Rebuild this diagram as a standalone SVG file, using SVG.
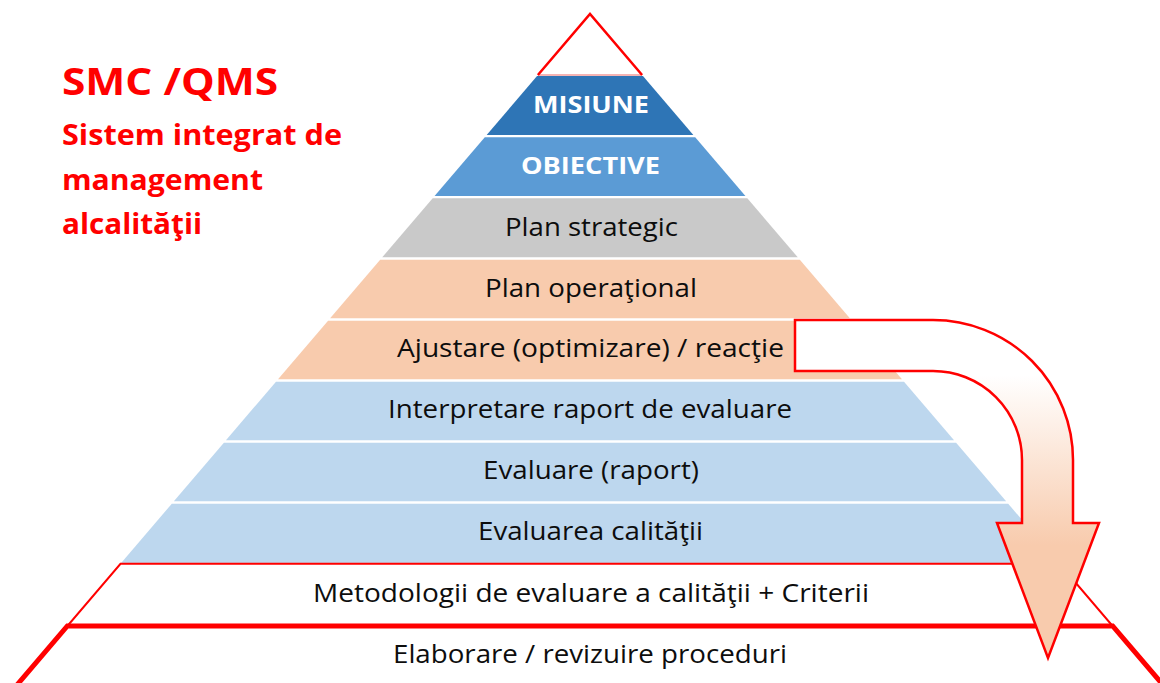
<svg xmlns="http://www.w3.org/2000/svg" width="1160" height="683" viewBox="0 0 1160 683">
<style>
.lbl{font-family:"Open Sans","Liberation Sans",sans-serif;font-size:25px;fill:#0D0D0D}
.wb{font-family:"Open Sans","Liberation Sans",sans-serif;font-size:24px;font-weight:bold;fill:#FFFFFF}
.ttl{font-family:"Open Sans","Liberation Sans",sans-serif;font-weight:bold;fill:#FF0000}
.red{stroke:#FF0000;fill:none}
</style>
<defs>
<linearGradient id="ag" gradientUnits="userSpaceOnUse" x1="0" y1="375" x2="0" y2="545">
<stop offset="0" stop-color="#FFFFFF"/>
<stop offset="1" stop-color="#F8CBAD"/>
</linearGradient>
</defs>
<rect width="1160" height="683" fill="#FFFFFF"/>
<g id="title">
<text class="ttl" x="62" y="95" font-size="38" textLength="216" lengthAdjust="spacingAndGlyphs">SMC /QMS</text>
<text class="ttl" x="62" y="145" font-size="28" textLength="280" lengthAdjust="spacingAndGlyphs">Sistem integrat de</text>
<text class="ttl" x="62" y="189.5" font-size="28" textLength="201" lengthAdjust="spacingAndGlyphs">management</text>
<text class="ttl" x="62" y="234" font-size="28" textLength="140" lengthAdjust="spacingAndGlyphs">alcalităţii</text>
</g>
<g id="apex">
<polygon points="590,14 642.1,75 537.9,75" fill="#FFFFFF" stroke="none"/>
<line x1="537.9" y1="75" x2="642.1" y2="75" stroke="#F6B4B4" stroke-width="2"/>
<polyline class="red" points="537.9,75 590,14 642.1,75" stroke-width="2.5"/>
</g>
<g id="misiune">
<polygon points="537.05,76 642.95,76 693.33,135 486.67,135" fill="#2E75B6"/>
<text class="wb" x="533" y="113" textLength="116" lengthAdjust="spacingAndGlyphs">MISIUNE</text>
</g>
<g id="obiective">
<polygon points="484.79,137.2 695.21,137.2 745.43,196 434.57,196" fill="#5B9BD5"/>
<text class="wb" x="521" y="174" textLength="139" lengthAdjust="spacingAndGlyphs">OBIECTIVE</text>
</g>
<g id="plan-strategic">
<polygon points="432.69,198.2 747.31,198.2 797.78,257.3 382.22,257.3" fill="#C9C9C9"/>
<text class="lbl" x="505" y="236" textLength="173" lengthAdjust="spacingAndGlyphs">Plan strategic</text>
</g>
<g id="plan-operational">
<polygon points="380.17,259.7 799.83,259.7 849.87,318.3 330.13,318.3" fill="#F8CBAD"/>
<text class="lbl" x="485" y="297" textLength="212" lengthAdjust="spacingAndGlyphs">Plan operaţional</text>
</g>
<g id="ajustare">
<polygon points="328.08,320.7 851.92,320.7 901.97,379.3 278.03,379.3" fill="#F8CBAD"/>
<text class="lbl" x="397" y="357" textLength="387" lengthAdjust="spacingAndGlyphs">Ajustare (optimizare) / reacţie</text>
</g>
<g id="interpretare">
<polygon points="275.98,381.7 904.02,381.7 954.06,440.3 225.94,440.3" fill="#BDD7EE"/>
<text class="lbl" x="388" y="418" textLength="404" lengthAdjust="spacingAndGlyphs">Interpretare raport de evaluare</text>
</g>
<g id="evaluare-raport">
<polygon points="223.89,442.7 956.11,442.7 1006.15,501.3 173.85,501.3" fill="#BDD7EE"/>
<text class="lbl" x="483" y="479" textLength="216" lengthAdjust="spacingAndGlyphs">Evaluare (raport)</text>
</g>
<g id="evaluarea-calitatii">
<polygon points="171.8,503.7 1008.2,503.7 1059.5,563.8 120.5,563.8" fill="#BDD7EE"/>
<text class="lbl" x="478" y="540" textLength="225" lengthAdjust="spacingAndGlyphs">Evaluarea calităţii</text>
</g>
<g id="metodologii">
<polygon points="120.5,563.8 1059.5,563.8 1112.65,626 67.35,626" fill="#FFFFFF" stroke="#FF0000" stroke-width="2"/>
<text class="lbl" x="313" y="602" textLength="556" lengthAdjust="spacingAndGlyphs">Metodologii de evaluare a calităţii + Criterii</text>
</g>
<g id="elaborare">
<polyline class="red" points="12.7,690 67.35,626 1112.65,626 1167.3,690" stroke-width="5" stroke-linejoin="miter"/>
<text class="lbl" x="393" y="663" textLength="394" lengthAdjust="spacingAndGlyphs">Elaborare / revizuire proceduri</text>
</g>
<g id="connectors">
<path d="M795,320 L933,320 A140,140 0 0 1 1073,460 L1073,523 L1099,523 L1048,658 L997,523 L1022,523 L1022,460 A89,89 0 0 0 933,371 L795,371 Z" fill="url(#ag)" stroke="#FF0000" stroke-width="2.5" stroke-linejoin="miter"/>
</g>
</svg>
